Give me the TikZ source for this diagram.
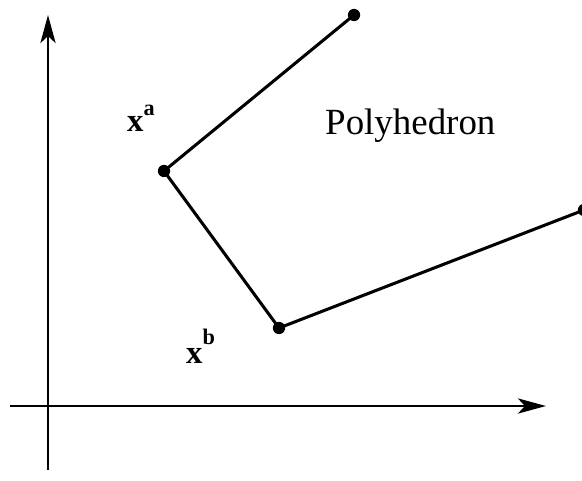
\documentclass[tikz,border=0pt]{standalone}
\usepackage{fontspec}
\setmainfont{Liberation Serif}
\usetikzlibrary{arrows.meta}

\begin{document}
\begin{tikzpicture}[x=0.03cm, y=-0.03cm, line join=round,
    axis/.style={line width=1.7pt, -{Stealth[length=24pt, width=13pt, inset=6pt]}},
    edge/.style={line width=2.6pt},
    vertex/.style={circle, fill=black, inner sep=0pt, minimum size=10.5pt},
    lbl/.style={inner sep=0pt, anchor=base west}]
    \useasboundingbox (0,0) rectangle (582,481);

    % Axes
    \coordinate (yfoot) at (48,470);
    \coordinate (ytip)  at (48,15);
    \coordinate (xfoot) at (10,406);
    \coordinate (xtip)  at (546,406);
    \draw[axis] (yfoot) -- (ytip);
    \draw[axis] (xfoot) -- (xtip);

    % Vertices of the polyhedron boundary
    \node[vertex] (vtop)   at (354,15)  {};
    \node[vertex] (va)     at (164,171) {};
    \node[vertex] (vb)     at (279,328) {};
    \node[vertex] (vright) at (584,210) {};

    % Edges
    \draw[edge] (vtop.center) -- (va.center) -- (vb.center) -- (vright.center);

    % Labels
    \node[lbl, font=\fontsize{31.5}{31.5}\selectfont] (poly) at (325,135) {Polyhedron};
    \node[lbl, font=\bfseries] (xa) at (127,132)
      {\fontsize{28}{28}\selectfont x\raisebox{14.5pt}{\fontsize{19}{19}\selectfont a}};
    \node[lbl, font=\bfseries] (xb) at (186,363)
      {\fontsize{28}{28}\selectfont x\raisebox{15.4pt}{\fontsize{19}{19}\selectfont b}};
\end{tikzpicture}
\end{document}
